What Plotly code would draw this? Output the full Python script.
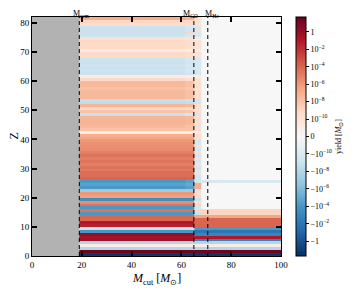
import numpy as np
import plotly.graph_objects as go

# ---- data ----
M_rem = 19.0
M_CO = 65.0
M_He = 70.6
M_edges = [M_rem, 61.5, M_CO, 68.0, 100.0]   # M_cut segment edges
Z_edges = list(range(0, 83))                 # element rows Z = 1..82

# yield [Msun] per Z (1..82) in each M_cut segment
yield_A = [
    -20, 20, -1e-8, 1e-11, -1e-8, 0.5, 0.3, 1.0, -1e-4, -1e-9,
    0.05, 0.1, 1e-4, 1e-4, -1e-4, 3e-5, -1e-4, 3e-5, 3e-6, -3e-4,
    5e-7, 1e-6, -1e-7, -1e-4, -3e-5, -1e-4, 1e-4, 5e-5, 5e-5, 2e-5,
    3e-5, 1e-5, 3e-5, 1e-5, 3e-5, 1e-5, 3e-6, 2e-6, 2e-6, 1e-6,
    3e-7, 1e-7, 1e-11, 1e-8, 3e-8, 5e-8, 5e-8, 5e-8, -1e-9, 1e-8,
    1e-9, 5e-8, -3e-9, -2e-9, 3e-8, 3e-8, 3e-8, 1e-8, 3e-8, 3e-8,
    5e-10, 1e-11, -1e-9, -8e-10, -1e-9, -8e-10, -1e-9, -8e-10, 5e-10, 5e-10,
    2e-11, 5e-10, 5e-10, 5e-10, 1e-10, -8e-10, -1e-9, -1e-9, -1e-9, 3e-10,
    1e-9, 1e-7,
]
yield_B = [
    -20, 20, -1e-8, 1e-11, -1e-8, 0.5, 0.3, 1.0, -1e-4, -1e-9,
    0.05, 0.1, 1e-4, 1e-4, -1e-4, 3e-5, -1e-4, 3e-5, 3e-6, -3e-4,
    5e-7, 1e-6, -1e-7, -3e-5, -1e-5, -3e-5, 1e-4, 5e-5, 5e-5, 2e-5,
    3e-5, 1e-5, 3e-5, 1e-5, 3e-5, 1e-5, 3e-6, 2e-6, 2e-6, 1e-6,
    3e-7, 1e-7, 1e-11, 1e-8, 1e-8, 3e-8, 3e-8, 3e-8, -5e-10, 5e-9,
    5e-10, 3e-8, -2e-9, -1e-9, 1e-8, 1e-8, 1e-8, 5e-9, 1e-8, 1e-8,
    3e-10, 1e-11, -5e-10, -3e-10, -5e-10, -3e-10, -5e-10, -3e-10, 3e-10, 3e-10,
    1e-11, 3e-10, 3e-10, 3e-10, 1e-10, -3e-10, 1e-9, -5e-10, -3e-10, 2e-10,
    5e-10, 5e-8,
]
yield_C = [
    -20, 20, -1e-8, 1e-11, -1e-8, -1e-3, 0.1, -1e-3, -1e-2, -1e-4,
    1e-4, 1e-4, 1e-4, 3e-7, -1e-9, 1e-9, -3e-10, 1e-9, 3e-10, -1e-9,
    3e-10, 3e-10, -3e-10, 1e-7, 1e-7, -3e-10, -5e-10, -3e-10, 2e-10, -3e-10,
    -5e-10, 2e-10, -3e-10, 2e-10, -5e-10, 2e-10, -3e-10, 2e-10, -3e-10, -3e-10,
    2e-10, 2e-10, 1e-11, 2e-10, -2e-10, 2e-10, 2e-10, 3e-10, -3e-10, 2e-10,
    2e-10, 2e-10, -5e-10, -5e-10, 2e-10, 2e-10, 2e-10, 1e-10, 2e-10, 2e-10,
    1e-10, 1e-11, -3e-10, -2e-10, -3e-10, -2e-10, -2e-10, -2e-10, 1e-10, 1e-10,
    1e-11, 1e-10, 1e-10, 1e-10, 1e-11, -2e-10, -3e-10, 3e-10, -2e-10, 1e-10,
    1e-10, 2e-10,
]
yield_D = [
    -20, 20, -1e-8, 1e-11, -1e-8, -1e-3, 0.1, -1e-3, -1e-2, -1e-4,
    1e-4, 1e-4, 1e-4, 3e-7, 1e-9, 1e-9, 0, 0, 0, 0,
    0, 0, 0, 0, 0, -2e-10, 0, 0, 0, 0,
] + [0] * 52

cbar_vals = [1, 1e-2, 1e-4, 1e-6, 1e-8, 1e-10, 0,
             -1e-10, -1e-8, -1e-6, -1e-4, -1e-2, -1]
cbar_text = ["1", "10<sup>−2</sup>", "10<sup>−4</sup>", "10<sup>−6</sup>",
             "10<sup>−8</sup>", "10<sup>−10</sup>", "0",
             "−10<sup>−10</sup>", "−10<sup>−8</sup>", "−10<sup>−6</sup>",
             "−10<sup>−4</sup>", "−10<sup>−2</sup>", "−1"]

LINTHRESH = 1e-12
T_MAX = 13.7


def symlog(v):
    v = np.asarray(v, dtype=float)
    return np.sign(v) * np.log10(1.0 + np.abs(v) / LINTHRESH)


z = np.column_stack([symlog(yield_A), symlog(yield_B),
                     symlog(yield_C), symlog(yield_D)])

rdbu_r = [
    [0.0, "rgb(5,48,97)"], [0.1, "rgb(33,102,172)"], [0.2, "rgb(67,147,195)"],
    [0.3, "rgb(146,197,222)"], [0.4, "rgb(209,229,240)"], [0.5, "rgb(247,247,247)"],
    [0.6, "rgb(253,219,199)"], [0.7, "rgb(244,165,130)"], [0.8, "rgb(214,96,77)"],
    [0.9, "rgb(178,24,43)"], [1.0, "rgb(103,0,31)"],
]

FONT = "Liberation Serif"
# the page body adds an 8px offset, so the figure is a little smaller
W, H = 348, 283
ML, MR, MT, MB = 24, 75, 9, 35

fig = go.Figure()
fig.add_trace(go.Heatmap(
    x=M_edges, y=Z_edges, z=z,
    zmin=-T_MAX, zmax=T_MAX, colorscale=rdbu_r,
    hoverinfo="skip",
    colorbar=dict(
        x=1.06, xanchor="left",
        y=0.5, yanchor="middle", len=1.0, lenmode="fraction",
        thickness=10, outlinewidth=1, outlinecolor="black", xpad=0, ypad=0,
        tickvals=list(symlog(cbar_vals)), ticktext=cbar_text,
        ticks="outside", ticklen=3, tickwidth=1, tickcolor="black",
        tickfont=dict(family=FONT, size=8, color="black"),
        title=dict(text="yield [<i>M</i><sub>⊙</sub>]", side="right",
                   font=dict(family=FONT, size=8, color="black")),
    ),
))

for m in (M_rem, M_CO, M_He):
    fig.add_shape(type="line", x0=m, x1=m, y0=0, y1=82, xref="x", yref="y",
                  line=dict(color="black", width=1, dash="4px,3px"))

for m, lab, dx in ((M_rem, "M<sub>rem</sub>", 2), (M_CO, "M<sub>CO</sub>", -3),
                   (M_He, "M<sub>He</sub>", 4)):
    fig.add_annotation(x=m, y=1.0, xref="x", yref="paper", text=lab,
                       showarrow=False, yanchor="bottom", yshift=-3, xshift=dx,
                       borderpad=0,
                       font=dict(family=FONT, size=8, color="black"))

# axis titles as annotations for exact placement
fig.add_annotation(x=0.5, y=0, xref="paper", yref="paper", yanchor="top", yshift=-13,
                   text="<i>M</i><sub>cut</sub> [<i>M</i><sub>⊙</sub>]", showarrow=False,
                   font=dict(family=FONT, size=12, color="black"))
fig.add_annotation(x=0, y=0.5, xref="paper", yref="paper", xanchor="center", xshift=-19,
                   text="Z", textangle=-90, showarrow=False,
                   font=dict(family=FONT, size=12, color="black"))

axis_common = dict(showline=True, linecolor="black", linewidth=1, mirror="allticks",
                   ticks="inside", ticklen=5, tickwidth=1.5, tickcolor="black",
                   showgrid=False, zeroline=False, automargin=False,
                   tickfont=dict(family=FONT, size=9, color="black"))

fig.update_layout(
    width=W, height=H,
    margin=dict(l=ML, r=MR, t=MT, b=MB, autoexpand=False),
    paper_bgcolor="white", plot_bgcolor="#b2b2b2",
    font=dict(family=FONT, color="black"),
    xaxis=dict(range=[0, 100], tickvals=[0, 20, 40, 60, 80, 100], **axis_common),
    yaxis=dict(range=[0, 82], tickvals=[0, 10, 20, 30, 40, 50, 60, 70, 80], **axis_common),
)

fig.write_html("out.html")
